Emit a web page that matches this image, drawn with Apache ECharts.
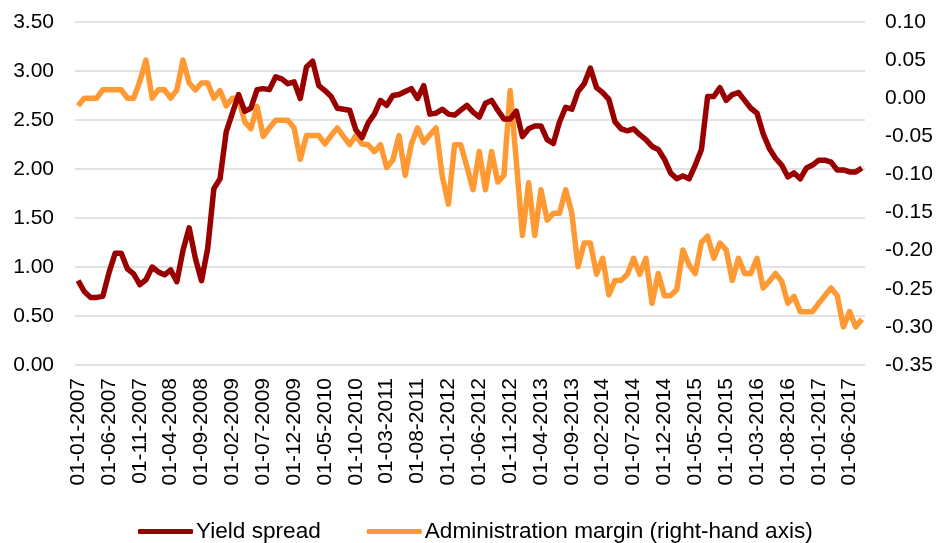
<!DOCTYPE html>
<html lang="en">
<head>
    <meta charset="UTF-8">
    <title>Yield spread and administration margin</title>
    <script src="https://cdn.jsdelivr.net/npm/echarts@6/dist/echarts.min.js"></script>
    <style>
        html, body { margin: 0; padding: 0; background: #fff; }
        #main { width: 938px; height: 543px; }
    </style>
</head>
<body>
<div id="main"></div>
<script type="text/javascript">
    // monthly, 01-01-2007 .. 01-08-2017
    var startYear = 2007;
    var monthCount = 128;
    var months = [];
    for (var i = 0; i < monthCount; i++) {
        var m = i % 12 + 1;
        var y = startYear + Math.floor(i / 12);
        months.push('01-' + (m < 10 ? '0' + m : m) + '-' + y);
    }

    var yieldSpread = [
        0.86, 0.75, 0.69, 0.69, 0.70, 0.94, 1.14, 1.14, 0.98, 0.93, 0.82, 0.87,
        1.00, 0.95, 0.92, 0.97, 0.85, 1.17, 1.40, 1.09, 0.86, 1.19, 1.80, 1.90,
        2.38, 2.57, 2.76, 2.59, 2.62, 2.81, 2.82, 2.81, 2.94, 2.92, 2.87, 2.89,
        2.72, 3.04, 3.10, 2.85, 2.80, 2.74, 2.62, 2.61, 2.60, 2.40, 2.32, 2.47,
        2.56, 2.70, 2.65, 2.75, 2.76, 2.79, 2.82, 2.72, 2.85, 2.56, 2.57, 2.61,
        2.56, 2.55, 2.60, 2.65, 2.58, 2.53, 2.67, 2.70, 2.60, 2.51, 2.51, 2.59,
        2.33, 2.41, 2.44, 2.44, 2.30, 2.26, 2.48, 2.63, 2.61, 2.79, 2.87, 3.03,
        2.83, 2.78, 2.71, 2.48, 2.41, 2.39, 2.41, 2.35, 2.30, 2.23, 2.20, 2.10,
        1.96, 1.90, 1.93, 1.90, 2.04, 2.20, 2.74, 2.74, 2.83, 2.70, 2.76, 2.78,
        2.70, 2.62, 2.57, 2.36, 2.21, 2.11, 2.04, 1.92, 1.96, 1.90, 2.01, 2.04,
        2.09, 2.09, 2.07, 1.99, 1.99, 1.97, 1.97, 2.01
    ];

    var adminMargin = [
        -0.010, 0.000, 0.000, 0.000, 0.011, 0.011, 0.011, 0.011, 0.000, 0.000, 0.022, 0.050,
        0.000, 0.011, 0.011, 0.000, 0.011, 0.050, 0.020, 0.011, 0.020, 0.020, 0.000, 0.010,
        -0.010, 0.000, 0.000, -0.031, -0.040, -0.011, -0.050, -0.039, -0.029, -0.029, -0.029, -0.039,
        -0.080, -0.049, -0.049, -0.049, -0.060, -0.049, -0.039, -0.050, -0.061, -0.049, -0.060, -0.061,
        -0.070, -0.061, -0.091, -0.081, -0.049, -0.101, -0.060, -0.039, -0.058, -0.048, -0.039, -0.102,
        -0.139, -0.061, -0.061, -0.090, -0.120, -0.070, -0.120, -0.070, -0.110, -0.101, 0.010, -0.082,
        -0.180, -0.111, -0.180, -0.120, -0.160, -0.151, -0.151, -0.120, -0.151, -0.221, -0.190, -0.190,
        -0.231, -0.210, -0.258, -0.239, -0.239, -0.231, -0.210, -0.231, -0.210, -0.269, -0.230, -0.259,
        -0.259, -0.251, -0.199, -0.219, -0.230, -0.189, -0.181, -0.210, -0.190, -0.199, -0.239, -0.210,
        -0.230, -0.230, -0.210, -0.249, -0.240, -0.230, -0.240, -0.269, -0.260, -0.280, -0.280, -0.280,
        -0.269, -0.259, -0.249, -0.259, -0.300, -0.280, -0.300, -0.290
    ];

    var font = '"Liberation Sans", Arial, sans-serif';
    var myChart = echarts.init(document.getElementById('main'));
    var option = {
        animation: false,
        textStyle: { fontFamily: font },
        grid: { left: 75, right: 73, top: 22, bottom: 178, containLabel: false },
        legend: {
            bottom: -5,
            left: 133,
            icon: 'roundRect',
            itemWidth: 55,
            itemHeight: 5,
            itemGap: 46,
            textStyle: { fontFamily: font, fontSize: 22.6, color: '#000', padding: [0, 0, 0, -2] },
            data: ['Yield spread', 'Administration margin (right-hand axis)']
        },
        xAxis: {
            type: 'category',
            data: months,
            boundaryGap: true,
            axisLine: { show: false },
            axisTick: { show: false },
            axisLabel: {
                interval: 4,
                rotate: 90,
                margin: 13,
                fontSize: 21,
                color: '#000',
                fontFamily: font
            }
        },
        yAxis: [
            {
                type: 'value',
                min: 0,
                max: 3.5,
                interval: 0.5,
                axisLine: { show: false },
                axisTick: { show: false },
                axisLabel: {
                    fontSize: 21,
                    color: '#000',
                    margin: 21,
                    fontFamily: font,
                    formatter: function (v) { return v.toFixed(2); }
                },
                splitLine: { lineStyle: { color: '#d9d9d9', width: 1.5 } }
            },
            {
                type: 'value',
                min: -0.35,
                max: 0.10,
                interval: 0.05,
                axisLine: { show: false },
                axisTick: { show: false },
                splitLine: { show: false },
                axisLabel: {
                    fontSize: 21,
                    color: '#000',
                    margin: 20,
                    fontFamily: font,
                    formatter: function (v) { return v.toFixed(2); }
                }
            }
        ],
        series: [
            {
                name: 'Yield spread',
                type: 'line',
                data: yieldSpread,
                yAxisIndex: 0,
                symbol: 'none',
                z: 3,
                lineStyle: { color: '#990000', width: 5.5, join: 'round' },
                itemStyle: { color: '#990000' }
            },
            {
                name: 'Administration margin (right-hand axis)',
                type: 'line',
                data: adminMargin,
                yAxisIndex: 1,
                symbol: 'none',
                z: 2,
                lineStyle: { color: '#FF9933', width: 5.5, join: 'round' },
                itemStyle: { color: '#FF9933' }
            }
        ]
    };
    myChart.setOption(option);
</script>
</body>
</html>
